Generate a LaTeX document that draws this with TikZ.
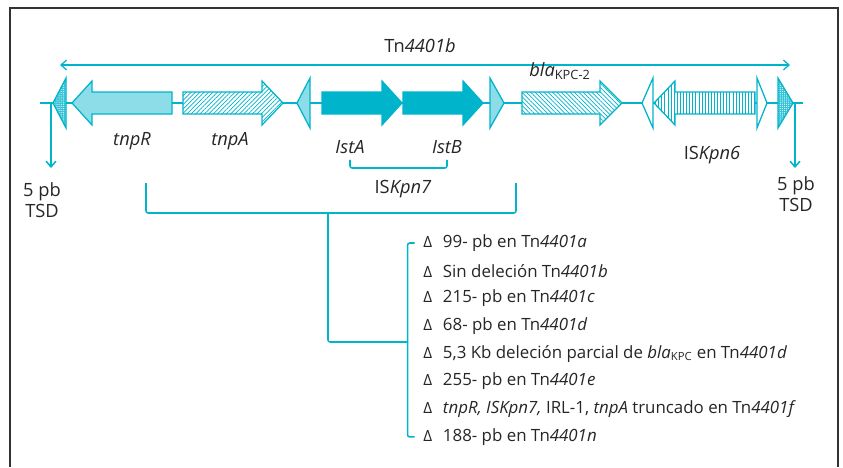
\documentclass[tikz,border=0pt]{standalone}
\usepackage{fontspec}
\setmainfont{Open Sans}
\usepackage{tikz}
\usetikzlibrary{arrows.meta, patterns.meta, positioning}

\definecolor{tncyan}{RGB}{0,180,204}

% Genpfeil: Spitze, Kopfansatz, Ende, Stil
\newcommand{\genpfeil}[4]{%
	\draw[gen, #4] (#1,103) -- (#2,81) -- (#2,92) -- (#3,92) -- (#3,114) -- (#2,114) -- (#2,125) -- cycle;}
% IR-Dreieck: Spitze, Basis, Stil
\newcommand{\irdreieck}[3]{%
	\draw[gen, #3] (#1,103) -- (#2,78) -- (#2,128) -- cycle;}

\begin{document}
\begin{tikzpicture}[x=0.25mm, y=-0.25mm, font=\fontsize{13}{15}\selectfont, text=black!85,
		gen/.style={draw=tncyan, line width=0.9pt},
		hell/.style={fill=tncyan!45},
		voll/.style={fill=tncyan},
		leer/.style={fill=white},
		schraeg/.style={preaction={fill=white}, pattern={Lines[angle=45, distance=2.2pt, line width=0.5pt]}, pattern color=tncyan},
		gegenschraeg/.style={preaction={fill=white}, pattern={Lines[angle=-45, distance=2.2pt, line width=0.5pt]}, pattern color=tncyan},
		senkrecht/.style={preaction={fill=white}, pattern={Lines[angle=90, distance=2.2pt, line width=0.7pt]}, pattern color=tncyan},
		punkte/.style={preaction={fill=tncyan!80}, pattern={Dots[distance=1.5pt, radius=0.4pt]}, pattern color=white},
		linie/.style={tncyan, line width=1.1pt},
		pfeil/.style={linie, -{Straight Barb[length=4pt, width=7pt]}},
		klammer/.style={linie, rounded corners=1.5pt},
		tsd/.style={align=center, font=\fontsize{13}{15}\selectfont},
		eintrag/.style={anchor=west, inner sep=0pt, font=\fontsize{12}{14}\selectfont}]
	\useasboundingbox (0,0) rectangle (843,467);
	
	% Rahmen
	\draw[black!80, line width=1.2pt] (10,467) -- (10,8) -- (838,8) -- (838,467);
	
	% Tn4401b
	\coordinate (tnl) at (60,65);
	\coordinate (tnr) at (790,65);
	\draw[linie, line width=0.9pt, {Straight Barb[length=4pt, width=7pt]}-{Straight Barb[length=4pt, width=7pt]}] (tnl) -- (tnr);
	\node (tn) at (420,46) {Tn\textit{4401b}};
	
	% Hauptlinie
	\coordinate (la) at (40,103);
	\coordinate (le) at (803,103);
	\draw[linie] (la) -- (le);
	
	% TSD
	\coordinate (tsdl) at (51,103);
	\coordinate (tsdlend) at (51,168);
	\coordinate (tsdr) at (795,103);
	\coordinate (tsdrend) at (795,168);
	\draw[pfeil] (tsdl) -- (tsdlend);
	\draw[pfeil] (tsdr) -- (tsdrend);
	\node[tsd] (tsdltext) at (42,200) {5 pb\\TSD};
	\node[tsd] (tsdrtext) at (796,194) {5 pb\\TSD};
	
	% Gene
	\irdreieck{53}{66}{punkte}
	\genpfeil{72}{92}{172}{hell}
	\genpfeil{283}{262}{183}{schraeg}
	\irdreieck{297}{310}{hell}
	\genpfeil{402}{382}{322}{voll}
	\genpfeil{483}{463}{403}{voll}
	\irdreieck{504}{490}{hell}
	\genpfeil{622}{600}{522}{gegenschraeg}
	\irdreieck{642}{653}{leer}
	\genpfeil{654}{675}{755}{senkrecht}
	\irdreieck{767}{757}{leer}
	\irdreieck{793}{778}{punkte}
	
	% Beschriftung
	\node (tnpR) at (132,141) {\textit{tnpR}};
	\node (tnpA) at (230,141) {\textit{tnpA}};
	\node (istA) at (350,147) {\textit{IstA}};
	\node (istB) at (447,147) {\textit{IstB}};
	\node (bla) at (560,71) {\textit{bla}\textsubscript{KPC-2}};
	\node (iskpn6) at (712,155) {IS\textit{Kpn6}};
	\node (iskpn7) at (403,189) {IS\textit{Kpn7}};
	
	% Klammern
	\draw[klammer] ([yshift=-1pt]istA.south) -- ++(0,8) -| ([yshift=-1pt]istB.south);
	\coordinate (kl) at (146,183);
	\coordinate (kr) at (516,183);
	\coordinate (km) at (328,213);
	\coordinate (lmid) at (408,342);
	\draw[klammer] (kl) -- ++(0,30) -| (kr);
	\draw[klammer] (km) |- (lmid);
	
	% Deletionen
	\foreach \txt [count=\i] in {%
		{99- pb en Tn\textit{4401a}},
		{Sin deleción Tn\textit{4401b}},
		{215- pb en Tn\textit{4401c}},
		{68- pb en Tn\textit{4401d}},
		{5,3 Kb deleción parcial de \textit{bla}\textsubscript{KPC} en Tn\textit{4401d}},
		{255- pb en Tn\textit{4401e}},
		{\textit{tnpR, ISKpn7,} IRL-1, \textit{tnpA} truncado en Tn\textit{4401f}},
		{188- pb en Tn\textit{4401n}}}
	\node[eintrag] (item\i) at (423,{243+27.7*(\i-1)}) {\makebox[14pt][l]{\fontsize{11}{11}\selectfont Δ}\txt};
	\draw[klammer] ([xshift=-6pt]item1.west) -- ++(-7,0) |- ([xshift=-6pt]item8.west);
\end{tikzpicture}
\end{document}
